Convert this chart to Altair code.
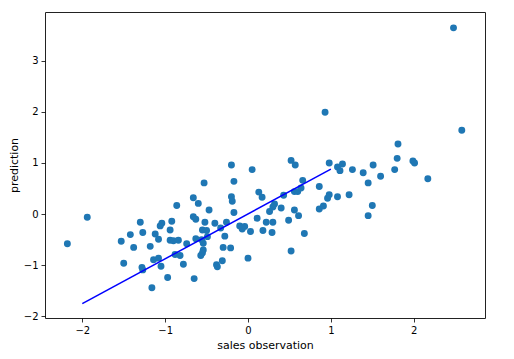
import altair as alt
import pandas as pd

obs = [-2.18, -1.94, -1.53, -1.50, -1.42, -1.38, -1.30, -1.27, -1.28, -1.27,
       -1.18, -1.16, -1.14, -1.12, -1.08, -1.08, -1.06, -1.04, -1.05, -0.97,
       -0.94, -0.94, -0.92, -0.90, -0.86, -0.84, -0.88, -0.82, -0.78, -0.74,
       -0.66, -0.60, -0.66, -0.63, -0.63, -0.65, -0.56, -0.54, -0.55, -0.50,
       -0.53, -0.52, -0.49, -0.54, -0.55, -0.57, -0.47, -0.40, -0.38, -0.37,
       -0.33, -0.31, -0.28, -0.30, -0.21, -0.26, -0.20, -0.17, -0.20, -0.19,
       -0.17, -0.10, -0.04, -0.07, 0.00, 0.03, 0.05, 0.11, 0.13, 0.17,
       0.18, 0.22, 0.29, 0.30, 0.32, 0.30, 0.26, 0.40, 0.43, 0.49,
       0.52, 0.57, 0.52, 0.56, 0.56, 0.60, 0.64, 0.61, 0.66, 0.68,
       0.86, 0.86, 0.91, 0.93, 0.96, 0.98, 0.98, 1.08, 1.08, 1.11,
       1.14, 1.22, 1.26, 1.39, 1.45, 1.45, 1.50, 1.51, 1.60, 1.77,
       1.80, 1.81, 1.99, 2.01, 2.17, 2.48, 2.58]
pred = [-0.58, -0.06, -0.53, -0.96, -0.40, -0.65, -0.16, -0.36, -1.04, -1.09,
        -0.63, -1.44, -0.89, -0.39, -0.49, -0.86, -0.23, -0.18, -1.02, -1.24,
        -0.31, -0.51, -0.14, -0.52, 0.17, -0.51, -0.79, -0.81, -0.98, -0.58,
        0.32, 0.21, -0.05, -0.10, -0.48, -1.26, -0.50, -0.57, -0.31, -0.32,
        0.61, -0.16, -0.44, -0.70, -0.76, -0.81, 0.08, -0.18, -0.99, -1.03,
        -0.27, -0.91, -0.43, -0.65, -0.66, -0.16, 0.96, 0.64, 0.34, 0.25,
        0.03, -0.23, -0.24, -0.29, -0.86, -0.34, 0.87, -0.08, 0.43, 0.33,
        -0.32, -0.16, -0.36, -0.16, 0.20, 0.14, 0.05, 0.12, 0.37, -0.12,
        1.05, 0.96, -0.72, 0.08, 0.44, 0.44, 0.51, -0.03, 0.66, -0.38,
        0.54, 0.10, 0.16, 1.99, 0.31, 0.38, 1.00, 0.34, 0.92, 0.85,
        0.98, 0.38, 0.87, 0.81, 0.61, -0.03, 0.17, 0.96, 0.74, 0.87,
        1.09, 1.37, 1.04, 1.00, 0.69, 3.64, 1.64]

line_x = [-2.0, 1.0]
line_y = [-1.75, 0.88]

x_ticks = [-2, -1, 0, 1, 2]
y_ticks = [-2, -1, 0, 1, 2, 3]

pts = pd.DataFrame({"obs": obs, "pred": pred})
ln = pd.DataFrame({"obs": line_x, "pred": line_y})

xscale = alt.Scale(domain=[-2.45, 2.86], nice=False, zero=False)
yscale = alt.Scale(domain=[-2.03, 3.95], nice=False, zero=False)

xaxis = alt.Axis(title="sales observation", values=x_ticks, format="d", grid=False)
yaxis = alt.Axis(title="prediction", values=y_ticks, format="d", grid=False)

scatter = alt.Chart(pts).mark_circle(size=48, opacity=1, color="#1f77b4").encode(
    x=alt.X("obs:Q", scale=xscale, axis=xaxis),
    y=alt.Y("pred:Q", scale=yscale, axis=yaxis),
)

line = alt.Chart(ln).mark_line(color="#0000ff", strokeWidth=1.5).encode(
    x=alt.X("obs:Q", scale=xscale),
    y=alt.Y("pred:Q", scale=yscale),
)

chart = alt.layer(scatter, line).properties(
    width=440, height=306,
    autosize=alt.AutoSizeParams(type="none"),
    padding={"left": 37, "top": 4, "right": 20, "bottom": 35},
    background="white",
).configure_view(
    stroke="#222222", strokeWidth=1
).configure_axis(
    domain=False,
    ticks=True, tickColor="black", tickSize=4, tickWidth=0.8,
    labelFont="DejaVu Sans", labelFontSize=10, labelColor="black", labelPadding=3,
    titleFont="DejaVu Sans", titleFontSize=11, titleFontWeight="normal", titleColor="black",
).configure_axisX(titlePadding=4).configure_axisY(titlePadding=4)

chart.save("out.html", embed_options={"renderer": "svg", "actions": False})
